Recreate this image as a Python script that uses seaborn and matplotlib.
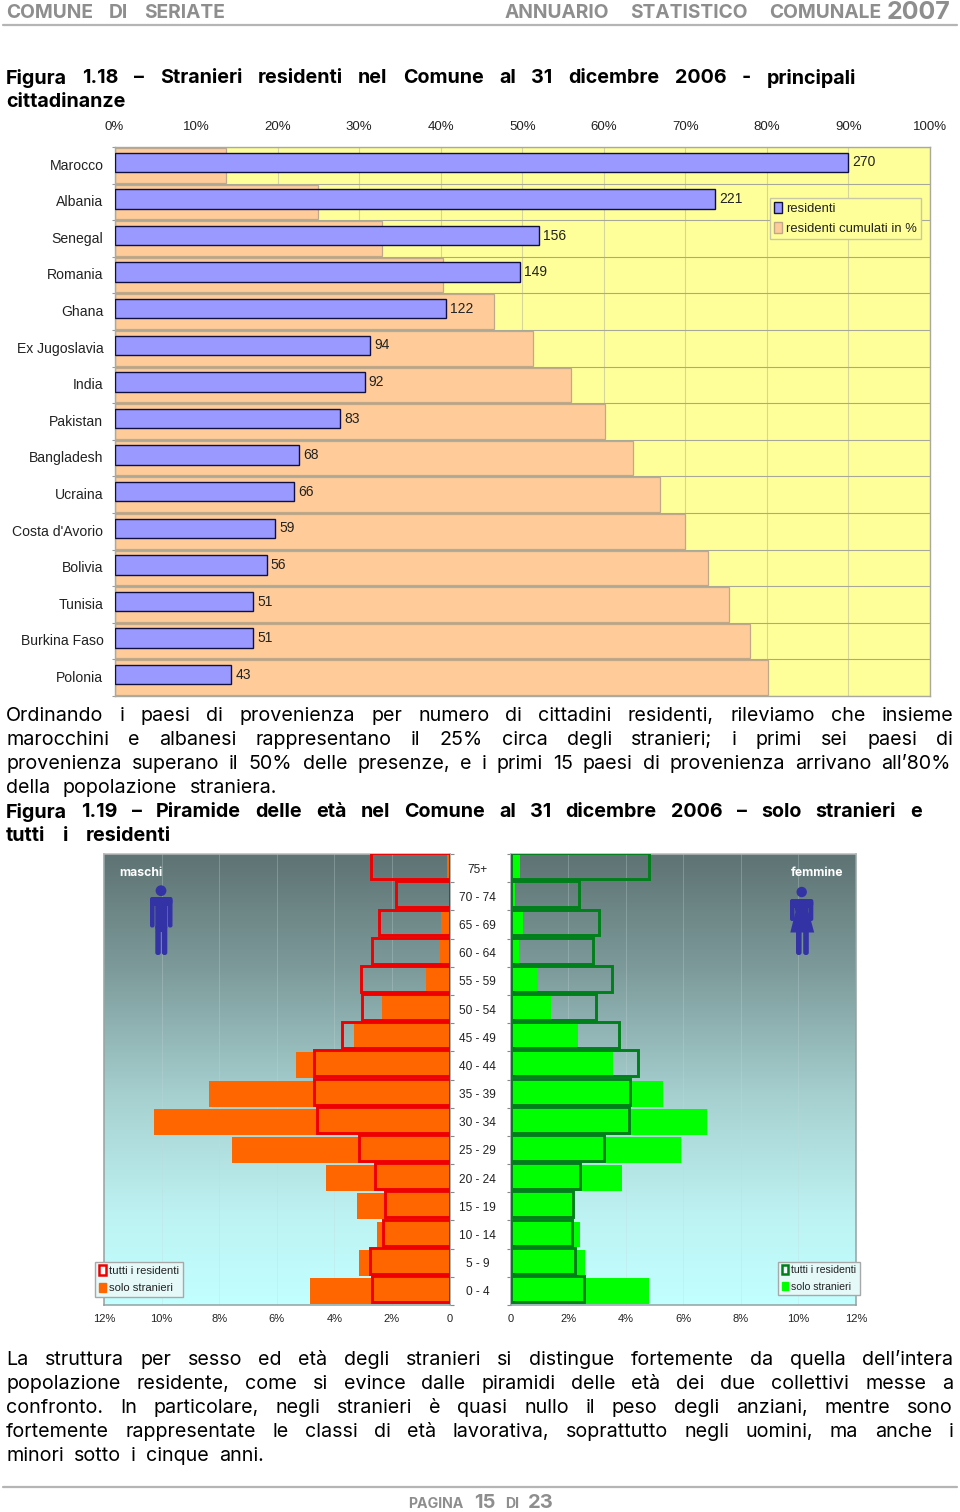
import matplotlib
matplotlib.use("Agg")
import matplotlib.pyplot as plt
import seaborn as sns
from matplotlib.colors import LinearSegmentedColormap
from matplotlib.patches import Circle, FancyBboxPatch, Patch, Polygon
from matplotlib.ticker import FuncFormatter
from matplotlib.transforms import ScaledTranslation

# --- dati figura 1.18 ---
paesi = ["Marocco", "Albania", "Senegal", "Romania", "Ghana", "Ex Jugoslavia", "India", "Pakistan",
         "Bangladesh", "Ucraina", "Costa d'Avorio", "Bolivia", "Tunisia", "Burkina Faso", "Polonia"]
residenti = [270, 221, 156, 149, 122, 94, 92, 83, 68, 66, 59, 56, 51, 51, 43]
cumulati = [13.7, 24.9, 32.8, 40.3, 46.5, 51.3, 56.0, 60.1, 63.6, 66.9, 70.0, 72.8, 75.4, 77.9, 80.1]

# --- dati figura 1.19 ---
eta = ["75+", "70 - 74", "65 - 69", "60 - 64", "55 - 59", "50 - 54", "45 - 49", "40 - 44",
       "35 - 39", "30 - 34", "25 - 29", "20 - 24", "15 - 19", "10 - 14", "5 - 9", "0 - 4"]
maschi_tutti = [2.73, 1.86, 2.45, 2.69, 3.08, 3.03, 3.74, 4.72, 4.71, 4.60, 3.15, 2.58, 2.25, 2.31, 2.78, 2.71]
maschi_stranieri = [0.08, 0.0, 0.30, 0.35, 0.81, 2.34, 3.31, 5.35, 8.36, 10.25, 7.55, 4.28, 3.20, 2.53, 3.15, 4.84]
femmine_tutti = [4.81, 2.36, 3.06, 2.86, 3.51, 2.97, 3.78, 4.41, 4.15, 4.10, 3.24, 2.41, 2.16, 2.12, 2.22, 2.55]
femmine_stranieri = [0.31, 0.15, 0.42, 0.27, 0.94, 1.39, 2.35, 3.57, 5.30, 6.82, 5.92, 3.87, 2.16, 2.39, 2.58, 4.79]

# --- testi ---
titolo_118 = ["Figura 1.18 – Stranieri residenti nel Comune al 31 dicembre 2006 - principali", "cittadinanze"]
par_1 = ["Ordinando i paesi di provenienza per numero di cittadini residenti, rileviamo che insieme",
         "marocchini e albanesi rappresentano il 25% circa degli stranieri; i primi sei paesi di",
         "provenienza superano il 50% delle presenze, e i primi 15 paesi di provenienza arrivano all’80%",
         "della popolazione straniera."]
titolo_119 = ["Figura 1.19 – Piramide delle età nel Comune al 31 dicembre 2006 – solo stranieri e",
              "tutti i residenti"]
par_2 = ["La struttura per sesso ed età degli stranieri si distingue fortemente da quella dell’intera",
         "popolazione residente, come si evince dalle piramidi delle età dei due collettivi messe a",
         "confronto. In particolare, negli stranieri è quasi nullo il peso degli anziani, mentre sono",
         "fortemente rappresentate le classi di età lavorativa, soprattutto negli uomini, ma anche i",
         "minori sotto i cinque anni."]

W, H = 960, 1512
sns.set_theme(style="white")
plt.rcParams["font.family"] = ["Liberation Sans", "DejaVu Sans"]
fig = plt.figure(figsize=(W / 100, H / 100), dpi=100, facecolor="white")


def box(x0, y0, x1, y1, **kw):
    # assi dati in pixel dell'immagine
    return fig.add_axes([x0 / W, 1 - y1 / H, (x1 - x0) / W, (y1 - y0) / H], **kw)


# foglio trasparente in pixel per testi e decorazioni
ov = box(0, 0, W, H, facecolor="none", zorder=10)
ov.set_xlim(0, W)
ov.set_ylim(H, 0)
ov.axis("off")
renderer = fig.canvas.get_renderer()


def riga(s, x0, x1, y, **kw):
    # riga giustificata parola per parola tra x0 e x1
    parole = s.split(" ")
    testi = [ov.text(x0, y, p, va="center_baseline", ha="left", **kw) for p in parole]
    larg = [t.get_window_extent(renderer).width for t in testi]
    gap = (x1 - x0 - sum(larg)) / max(len(parole) - 1, 1)
    x = x0
    for t, l in zip(testi, larg):
        t.set_x(x)
        x += l + gap


# --- intestazione e pie' di pagina ---
GRIGIO = "#8e8e8e"
riga("COMUNE DI SERIATE", 6, 225, 11, fontsize=13.8, fontweight="bold", color=GRIGIO, family="Inter")
riga("ANNUARIO STATISTICO COMUNALE", 505, 881, 11, fontsize=13.8, fontweight="bold", color=GRIGIO, family="Inter")
riga("2007", 887, 951, 10, fontsize=18, fontweight="bold", color=GRIGIO, family="Inter")
ov.plot([3, 957], [25, 25], color="#b5b5b5", lw=1.6)
ov.plot([3, 957], [1487, 1487], color="#b5b5b5", lw=1.6)
riga("PAGINA", 408, 469, 1503, fontsize=10.2, fontweight="bold", color=GRIGIO, family="Inter")
riga("15", 474, 497, 1501, fontsize=14.5, fontweight="bold", color=GRIGIO, family="Inter")
riga("DI", 505, 520, 1503, fontsize=10.2, fontweight="bold", color=GRIGIO, family="Inter")
riga("23", 528, 551, 1501, fontsize=14.5, fontweight="bold", color=GRIGIO, family="Inter")

# --- testi a tutta pagina ---
BOLD = dict(fontsize=14.2, fontweight="bold", color="black", family="Inter")
TXT = dict(fontsize=14.2, color="black", family="Inter")
riga(titolo_118[0], 6, 856, 76, **BOLD)
riga(titolo_118[1], 6, 140, 100, **BOLD)
for y, s, x1 in zip([714, 738, 762, 786], par_1, [953, 953, 951, 277]):
    riga(s, 6, x1, y, **TXT)
riga(titolo_119[0], 6, 922, 810, **BOLD)
riga(titolo_119[1], 6, 171, 834, **BOLD)
for y, s, x1 in zip([1358, 1382, 1406, 1430, 1454], par_2, [953, 953, 953, 953, 264]):
    riga(s, 6, x1, y, **TXT)

# --- figura 1.18: barre ---
ax = box(114.5, 147, 930, 696, facecolor="#FFFF99", zorder=2)
sns.barplot(x=cumulati, y=paesi, ax=ax, color="#FFCC99", saturation=1, width=0.95,
            edgecolor="#bfa98a", linewidth=0.9)
ax.set_xlim(0, 100)
ax.set_ylim(14.5, -0.5)
ax.set_axisbelow(True)
ax.xaxis.tick_top()
ax.set_xticks(range(0, 101, 10))
ax.xaxis.set_major_formatter(FuncFormatter(lambda v, p: f"{v:.0f}%"))
ax.set_yticks([i + 0.5 for i in range(-1, 15)], minor=True)
ax.grid(axis="x", which="major", color="#d6d69a", lw=0.8, visible=True)
ax.grid(axis="y", which="minor", color="#a8a89a", lw=0.8, visible=True)
ax.tick_params(axis="x", length=0, pad=10, labelsize=9.5, labelcolor="#222222")
ax.tick_params(axis="y", which="major", length=0, pad=8, labelsize=10.1, labelcolor="#222222")
ax.tick_params(axis="y", which="minor", left=True, length=2.5, color="#999999", width=0.8)
su = ScaledTranslation(0, 1.2 / 100, fig.dpi_scale_trans)
for lab in ax.get_yticklabels():
    lab.set_va("center_baseline")
    lab.set_transform(lab.get_transform() + su)
for sp in ax.spines.values():
    sp.set_color("#a9a9a0")
    sp.set_linewidth(1)
ax.set_xlabel("")
ax.set_ylabel("")

ax2 = box(114.5, 147, 930, 696, facecolor="none", zorder=3)
sns.barplot(x=residenti, y=paesi, ax=ax2, color="#9999FF", saturation=1, width=0.53,
            edgecolor="#101040", linewidth=1)
ax2.set_xlim(0, 300)
ax2.set_ylim(14.58, -0.42)
ax2.axis("off")
ax2.bar_label(ax2.containers[0], padding=3, fontsize=10, color="#222222")
ax2.legend(handles=[Patch(facecolor="#9999FF", edgecolor="#101040", label="residenti"),
                    Patch(facecolor="#FFCC99", edgecolor="#bfa98a", label="residenti cumulati in %")],
           loc="upper left", bbox_to_anchor=(770, 198), bbox_transform=ov.transData, borderaxespad=0,
           frameon=True, fancybox=False, facecolor="#FFFF99", edgecolor="#c8c8a8", framealpha=1,
           fontsize=9.4, handlelength=0.6, handleheight=0.9, handletextpad=0.3, labelspacing=0.5,
           borderpad=0.33, labelcolor="#222222")

# --- figura 1.19: piramide ---
sfondo = LinearSegmentedColormap.from_list(
    "sfondo", [(0, "#5f7474"), (0.25, "#7d9a9a"), (0.55, "#a8d2d2"), (0.8, "#bdf2f2"), (1, "#c2ffff")])
gradiente = [[i / 100] for i in range(101)]


def piramide(x0, x1, tutti, stranieri, col_pieno, col_bordo, sinistra, pos_leg, font_leg):
    a = box(x0, 854, x1, 1305, facecolor="white", zorder=2)
    a.imshow(gradiente, cmap=sfondo, aspect="auto", extent=(0, 1, 0, 1),
             transform=a.transAxes, interpolation="bilinear", zorder=0)
    sns.barplot(x=stranieri, y=eta, ax=a, color=col_pieno, saturation=1, width=0.92, linewidth=0)
    a.set_xlim((12, 0) if sinistra else (0, 12))
    a.set_ylim(15.5, -0.5)
    a.set_xticks(range(0, 13, 2))
    a.xaxis.set_major_formatter(FuncFormatter(lambda v, p: f"{v:.0f}%" if v else "0"))
    a.set_yticks([i + 0.5 for i in range(-1, 16)], minor=True)
    a.grid(axis="x", color="#c5d8d8", lw=0.7, alpha=0.3, visible=True)
    a.set_axisbelow(True)
    a.tick_params(axis="x", length=0, pad=6.3, labelsize=8, labelcolor="#222222")
    a.set_xlabel("")
    a.set_ylabel("")
    if sinistra:
        a.yaxis.tick_right()
        a.tick_params(axis="y", which="major", length=0, pad=20, labelsize=8.6, labelcolor="#222222")
        for lab in a.get_yticklabels():
            lab.set_ha("center")
        a.tick_params(axis="y", which="minor", right=True, left=False, length=3, color="#888888", width=0.8)
    else:
        a.tick_params(axis="y", which="major", left=False, labelleft=False, length=0)
        a.tick_params(axis="y", which="minor", left=True, length=3, color="#888888", width=0.8)
    for nome, sp in a.spines.items():
        sp.set_color("#94a2a2")
        sp.set_linewidth(1.1)
    a.spines["top"].set_color("#b9b9b9")

    b = box(x0, 854, x1, 1305, facecolor="none", zorder=3)
    sns.barplot(x=tutti, y=eta, ax=b, color=col_bordo, saturation=1, width=0.92, fill=False, linewidth=2.1)
    b.set_xlim((12, 0) if sinistra else (0, 12))
    b.set_ylim(15.57, -0.43)
    b.axis("off")
    b.legend(handles=[Patch(facecolor="#f4ffff", edgecolor=col_bordo, lw=1.8, label="tutti i residenti"),
                      Patch(facecolor=col_pieno, edgecolor=col_pieno, label="solo stranieri")],
             loc="upper left", bbox_to_anchor=pos_leg, bbox_transform=ov.transData, borderaxespad=0,
             frameon=True, fancybox=False, facecolor="#e6f9f9", edgecolor="#a8a8a8", framealpha=1,
             fontsize=font_leg, handlelength=0.6, handleheight=0.9, handletextpad=0.3, labelspacing=0.6,
             borderpad=0.35, labelcolor="#222222")


piramide(104, 449.6, maschi_tutti, maschi_stranieri, "#FF6600", "#EE0000", True, (95, 1261.5), 8.1)
piramide(510.8, 855.8, femmine_tutti, femmine_stranieri, "#00FF00", "#007F1A", False, (778, 1261.5), 7.6)

riga("maschi", 119, 161, 871, fontsize=8.8, fontweight="bold", color="white", family="Inter")
riga("femmine", 791, 844, 872, fontsize=8.8, fontweight="bold", color="white", family="Inter")

# omino e donnina
BLU = "#3333A6"


def arrot(x0, y0, x1, y1):
    r = min(x1 - x0, y1 - y0) * 0.45
    ov.add_patch(FancyBboxPatch((x0 + r, y0 + r), x1 - x0 - 2 * r, y1 - y0 - 2 * r,
                                boxstyle=f"round,pad={r}", fc=BLU, ec="none"))


ov.add_patch(Circle((161, 890.7), 5.4, fc=BLU, ec="none"))
arrot(150, 897, 172.5, 906)
arrot(150, 897, 154.6, 927.5)
arrot(167.9, 897, 172.5, 927.5)
arrot(155.3, 897, 167.3, 932)
arrot(155.3, 925, 160.8, 955)
arrot(161.9, 925, 167.3, 955)

ov.add_patch(Circle((801.7, 892), 5.2, fc=BLU, ec="none"))
arrot(790, 899, 813.3, 908)
arrot(790, 899, 794.6, 921)
arrot(808.7, 899, 813.3, 921)
arrot(795, 899, 808.6, 915)
ov.add_patch(Polygon([(796.5, 908), (807.5, 908), (814.2, 932.5), (790.3, 932.5)], fc=BLU, ec="none"))
arrot(796, 928, 801.6, 955)
arrot(803.2, 928, 808.8, 955)

fig.savefig("out.png", dpi=100)
